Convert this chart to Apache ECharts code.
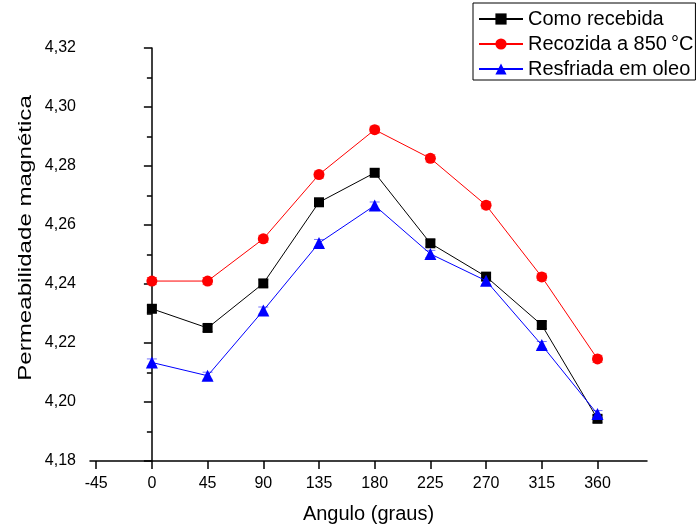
<!DOCTYPE html>
<html>
<head>
<meta charset="utf-8">
<script src="https://cdn.jsdelivr.net/npm/echarts@6/dist/echarts.min.js"></script>
<style>
html,body{margin:0;padding:0;background:#fff;}
#chart{width:697px;height:531px;}
</style>
</head>
<body>
<div id="chart"></div>
<script>
var angles = [0, 45, 90, 135, 180, 225, 270, 315, 360];
var xTicks = [-45, 0, 45, 90, 135, 180, 225, 270, 315, 360];
var recebida = [4.2316, 4.2251, 4.2402, 4.2677, 4.2777, 4.2538, 4.2425, 4.2261, 4.1943];
var recozida = [4.2410, 4.2410, 4.2553, 4.2771, 4.2923, 4.2826, 4.2667, 4.2424, 4.2146];
var oleo = [4.2134, 4.2089, 4.2310, 4.2539, 4.2666, 4.2502, 4.2411, 4.2193, 4.1959];
var errRecebida = [0.0012, 0.0012, 0.0012, 0.0012, 0.0012, 0.0012, 0.0012, 0.0012, 0.0012];
var errRecozida = [0.0012, 0.0012, 0.0012, 0.0012, 0.0012, 0.0012, 0.0012, 0.0012, 0.0012];
var errOleo = [0.0012, 0.0012, 0.0012, 0.0012, 0.0012, 0.0012, 0.0012, 0.0012, 0.0012];
var names = ['Como recebida', 'Recozida a 850\u2009\u00b0C', 'Resfriada em oleo'];
var yTitle = 'Permeabilidade magnética';
var xTitle = 'Angulo (graus)';

var FONT = '"Liberation Sans", Arial, sans-serif';

function pairs(ys) { return angles.map(function (a, i) { return [a, ys[i]]; }); }
function errData(ys, es) { return angles.map(function (a, i) { return [a, ys[i] - es[i], ys[i] + es[i]]; }); }

function errSeries(ys, es, color) {
  return {
    type: 'custom',
    data: errData(ys, es),
    z: 1,
    silent: true,
    encode: { x: 0, y: [1, 2] },
    renderItem: function (params, api) {
      var x = api.value(0);
      var lo = api.coord([x, api.value(1)]);
      var hi = api.coord([x, api.value(2)]);
      var hw = 5;
      var st = { stroke: color, lineWidth: 1 };
      return {
        type: 'group',
        children: [
          { type: 'line', shape: { x1: lo[0], y1: lo[1], x2: hi[0], y2: hi[1] }, style: st },
          { type: 'line', shape: { x1: lo[0] - hw, y1: lo[1], x2: lo[0] + hw, y2: lo[1] }, style: st },
          { type: 'line', shape: { x1: hi[0] - hw, y1: hi[1], x2: hi[0] + hw, y2: hi[1] }, style: st }
        ]
      };
    }
  };
}

var chart = echarts.init(document.getElementById('chart'), null, { renderer: 'canvas' });
chart.setOption({
  animation: false,
  backgroundColor: '#ffffff',
  textStyle: { fontFamily: FONT },
  grid: { left: 90, right: 50, top: 48, bottom: 70 },
  legend: {
    orient: 'vertical',
    left: 473,
    top: 3,
    padding: [5, 2, 0, 5],
    itemGap: 3,
    itemWidth: 44,
    itemHeight: 14,
    borderColor: '#000',
    borderWidth: 1,
    data: names,
    textStyle: { fontFamily: FONT, fontSize: 20, color: '#000', lineHeight: 22 }
  },
  graphic: [
    {
      type: 'text',
      x: 26,
      y: 238,
      rotation: Math.PI / 2,
      scaleX: 1.27,
      style: {
        text: yTitle,
        font: '19px ' + FONT,
        fill: '#000',
        textAlign: 'center',
        textVerticalAlign: 'middle'
      }
    }
  ],
  xAxis: {
    type: 'value',
    min: -50,
    max: 400,
    name: xTitle,
    nameLocation: 'middle',
    nameGap: 43,
    nameTextStyle: { fontFamily: FONT, fontSize: 20, color: '#000' },
    axisLine: { show: true, lineStyle: { color: '#000', width: 1.5 } },
    axisTick: { show: true, inside: false, length: 8, lineStyle: { color: '#000', width: 1.5 }, customValues: xTicks },
    axisLabel: { fontFamily: FONT, fontSize: 16, color: '#000', margin: 15, customValues: xTicks },
    splitLine: { show: false }
  },
  yAxis: {
    type: 'value',
    min: 4.18,
    max: 4.32,
    interval: 0.02,
    axisLine: { show: true, lineStyle: { color: '#000', width: 1.5 } },
    axisTick: { show: true, inside: false, length: 8, lineStyle: { color: '#000', width: 1.5 } },
    minorTick: { show: true, splitNumber: 2, length: 5, lineStyle: { color: '#000', width: 1.5 } },
    axisLabel: {
      fontFamily: FONT, fontSize: 16, color: '#000', margin: 14,
      formatter: function (v) { return v.toFixed(2).replace('.', ','); }
    },
    splitLine: { show: false }
  },
  series: [
    errSeries(recebida, errRecebida, 'rgba(0,0,0,0.55)'),
    errSeries(recozida, errRecozida, 'rgba(255,0,0,0.55)'),
    errSeries(oleo, errOleo, 'rgba(0,0,255,0.55)'),
    {
      name: names[0], type: 'line', data: pairs(recebida), z: 2,
      symbol: 'rect', symbolSize: 10,
      lineStyle: { color: '#000', width: 1 },
      itemStyle: { color: '#000' }
    },
    {
      name: names[1], type: 'line', data: pairs(recozida), z: 3,
      symbol: 'circle', symbolSize: 11,
      lineStyle: { color: '#ff0000', width: 1 },
      itemStyle: { color: '#ff0000' }
    },
    {
      name: names[2], type: 'line', data: pairs(oleo), z: 4,
      symbol: 'triangle', symbolSize: 12,
      lineStyle: { color: '#0000ff', width: 1 },
      itemStyle: { color: '#0000ff' }
    }
  ]
});
</script>
</body>
</html>
